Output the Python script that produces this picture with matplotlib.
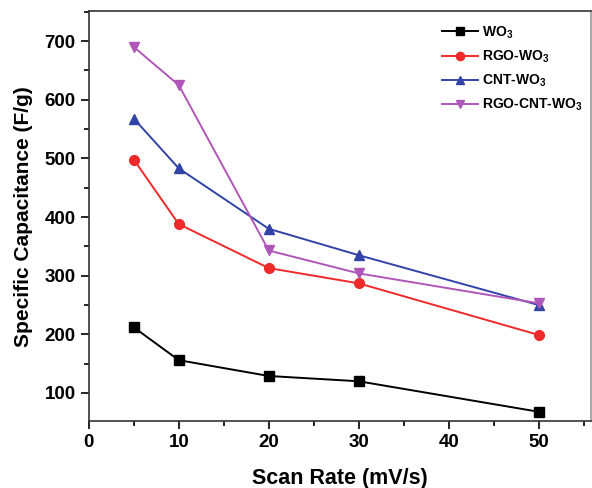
import matplotlib
matplotlib.use("Agg")
import matplotlib.pyplot as plt
from matplotlib.ticker import MultipleLocator

plt.rcParams['font.family'] = ['Liberation Sans', 'DejaVu Sans']
plt.rcParams['font.weight'] = 'bold'
plt.rcParams['mathtext.fontset'] = 'custom'
plt.rcParams['mathtext.rm'] = 'Liberation Sans:bold'
plt.rcParams['mathtext.bf'] = 'Liberation Sans:bold'

scan_rate = [5, 10, 20, 30, 50]
wo3 = [212, 156, 129, 120, 68]
rgo_wo3 = [498, 388, 313, 287, 199]
cnt_wo3 = [568, 483, 380, 335, 250]
rgo_cnt_wo3 = [690, 625, 343, 304, 253]

labels = [r'WO$_3$', r'RGO-WO$_3$', r'CNT-WO$_3$', r'RGO-CNT-WO$_3$']
colors = ['#000000', '#f02a2a', '#3243a8', '#b056b8']
markers = ['s', 'o', '^', 'v']
series = [wo3, rgo_wo3, cnt_wo3, rgo_cnt_wo3]

fig = plt.figure(figsize=(5.92, 4.88), dpi=100)
ax = fig.add_axes([0.150, 0.137, 0.848, 0.840])

for y, c, m, lab in zip(series, colors, markers, labels):
    ax.plot(scan_rate, y, color=c, marker=m, markersize=7, linewidth=1.4, label=lab)

ax.set_xlim(0, 55.8)
ax.set_ylim(52, 751)
ax.xaxis.set_major_locator(MultipleLocator(10))
ax.xaxis.set_minor_locator(MultipleLocator(5))
ax.yaxis.set_major_locator(MultipleLocator(100))
ax.yaxis.set_minor_locator(MultipleLocator(50))
ax.tick_params(axis='both', which='major', direction='out', length=6, width=1.2, labelsize=13.5)
ax.tick_params(axis='both', which='minor', direction='out', length=3.5, width=1.2)
for s in ax.spines.values():
    s.set_linewidth(1.2)
    s.set_color('#333333')
ax.spines['right'].set_color('#999999')

ax.set_xlabel('Scan Rate (mV/s)', fontsize=15.5, fontweight='bold', labelpad=12)
ax.set_ylabel('Specific Capacitance (F/g)', fontsize=15, fontweight='bold', labelpad=8)

leg = ax.legend(loc='upper left', bbox_to_anchor=(0.703, 0.968), frameon=False,
                borderaxespad=0, borderpad=0,
                fontsize=10, handlelength=2.6, labelspacing=0.55, handletextpad=0.3,
                markerscale=0.85)

fig.savefig('out.png', dpi=100)
